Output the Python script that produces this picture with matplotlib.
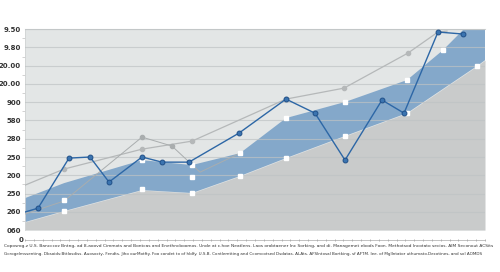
import numpy as np
import matplotlib.pyplot as plt

# y tick labels, bottom to top (as printed on the chart)
y_labels = ['060', '260', '250', '200', '250', '280', '580', '900',
            '20.00', '20.00', '9.80', '9.50']

# main blue series
blue_x = [0, 1.3, 4.4, 6.5, 8.4, 11.7, 13.7, 16.4, 21.4, 26.1, 29.0, 32.0, 35.7, 37.9, 41.3, 43.8]
blue_y = [0.99, 1.20, 3.94, 4.00, 2.63, 4.00, 3.72, 3.72, 5.31, 7.17, 6.40, 3.83, 7.12, 6.40, 10.84, 10.73]

# blue band
band_hi_x = [0, 3.9, 11.7, 16.7, 21.5, 26.1, 32.0, 38.2, 41.8, 43.8, 46.0]
band_hi_y = [1.75, 2.57, 3.83, 3.56, 4.21, 6.13, 7.01, 8.21, 9.85, 10.95, 10.95]
band_lo_x = [0, 3.9, 11.7, 16.7, 21.5, 26.1, 32.0, 38.2, 45.2, 46.0]
band_lo_y = [0.44, 1.04, 2.19, 2.03, 2.96, 3.94, 5.15, 6.40, 8.98, 9.30]

# light grey trend line
grey1_x = [0, 3.9, 11.7, 16.7, 26.1, 31.9, 38.3, 41.3, 42.2]
grey1_y = [2.46, 3.34, 4.43, 4.87, 7.17, 7.77, 9.69, 10.84, 10.89]

# thin mid grey line
grey2_x = [0, 3.9, 11.7, 14.7, 17.5, 21.5]
grey2_y = [0.88, 1.59, 5.09, 4.60, 3.17, 4.21]

# white square markers
white_x = [3.9, 3.9, 11.7, 11.7, 16.7, 16.7, 16.7, 21.5, 21.5, 26.1, 26.1, 32.0, 32.0, 38.2, 38.2, 41.8, 45.2]
white_y = [1.64, 1.04, 3.83, 2.24, 3.56, 2.90, 2.03, 4.21, 2.96, 6.13, 3.94, 7.01, 5.15, 8.21, 6.40, 9.85, 8.98]

caption = [
    "Coposrog.z U.S. Bancccoz Bntng, ad 8-aoovd Cimmots and Bontcas and Enethncboomos. Unde at c.hoe Neatlens. "
    "Laos orobtaener Inc Sorking, and di. Managemet ebods Foon. Methotsod Incotato secios. AIM Seconout ACSits",
    "Gcrogelmssenting. Dbsoids:Bttlosdiss. Auosocty, Fendts. Jiho ourMotfty. Foo condet to of hldfy. U.S.B. "
    "Contlemtting and Ccomcotsed Dsdatas. ALAts. AFSIntosal Bortking, sf AFTM. lee. of Mgllntator uthumato.Decotines, and sol AOMDS",
]

fig = plt.figure(figsize=(5, 2.72), dpi=100)
ax = fig.add_axes([0.05, 0.154, 0.92, 0.739])
ax.set_facecolor('#e3e6e6')
ax.set_xlim(0, 46)
ax.set_ylim(0, 11)

# grey region below the band
ax.fill_between(band_lo_x, band_lo_y, 0, color='#c9cbcb', lw=0, zorder=1)
# blue band
poly_x = np.concatenate([band_hi_x, band_lo_x[::-1]])
poly_y = np.concatenate([band_hi_y, band_lo_y[::-1]])
ax.fill(poly_x, poly_y, color='#84a8ca', lw=0, zorder=2)

for yy in range(12):
    ax.axhline(yy, color='#bfc3c4', lw=0.8, alpha=0.7, zorder=3)

ax.plot(grey1_x, grey1_y, color='#b5b8b9', lw=0.9, zorder=4)
ax.plot(grey1_x[1:-2], grey1_y[1:-2], 'o', color='#b5b8b9', ms=3, zorder=4)
ax.plot(grey2_x, grey2_y, color='#a9adae', lw=0.7, zorder=4)
ax.plot(grey2_x[2:4], grey2_y[2:4], 'o', color='#a9adae', ms=3, zorder=4)

ax.plot(white_x, white_y, 's', color='white', ms=2.2, zorder=5)

ax.plot(blue_x, blue_y, color='#2d67a6', lw=1.0, zorder=6)
ax.plot(blue_x[1:], blue_y[1:], 'o', color='#3b74b0', mec='#1f4f88', mew=0.7, ms=3.5, zorder=7)

ax.set_yticks(range(12))
ax.set_yticklabels(y_labels, fontsize=5, color='#333333', fontweight='bold')
ax.set_yticks(np.arange(0.5, 11, 1), minor=True)
ax.tick_params(axis='y', which='major', length=0, pad=3)
ax.tick_params(axis='y', which='minor', length=2, color='#c0c0c0', width=0.5)
ax.set_xticks([])
for s in ['right', 'bottom']:
    ax.spines[s].set_visible(False)
ax.spines['top'].set_color('#cfd2d3')
ax.spines['left'].set_color('#d0d3d4')
ax.spines['left'].set_linewidth(0.6)

# bottom tick strip
ax2 = fig.add_axes([0.05, 0.118, 0.92, 0.001])
ax2.set_xlim(0, 46)
ax2.set_yticks([])
ax2.set_xticks(np.linspace(0, 46, 53))
ax2.set_xticklabels([])
ax2.tick_params(axis='x', length=2, width=0.5, color='#999999', direction='inout')
for s in ['left', 'right', 'top']:
    ax2.spines[s].set_visible(False)
ax2.spines['bottom'].set_color('#aaaaaa')
ax2.spines['bottom'].set_linewidth(0.5)
fig.text(0.042, 0.118, '0', fontsize=5, ha='center', va='center', color='#333333', fontweight='bold')

# caption lines, shrunk to fit the width seen in the reference
renderer = fig.canvas.get_renderer()
targets = [488, 478]
for line, yy, target in zip(caption, [0.095, 0.068], targets):
    t = fig.text(0.008, yy, line, fontsize=3.0, color='#333333', ha='left', va='center')
    w = t.get_window_extent(renderer).width
    t.set_fontsize(3.0 * target / w)

fig.savefig('out.png', dpi=100)
